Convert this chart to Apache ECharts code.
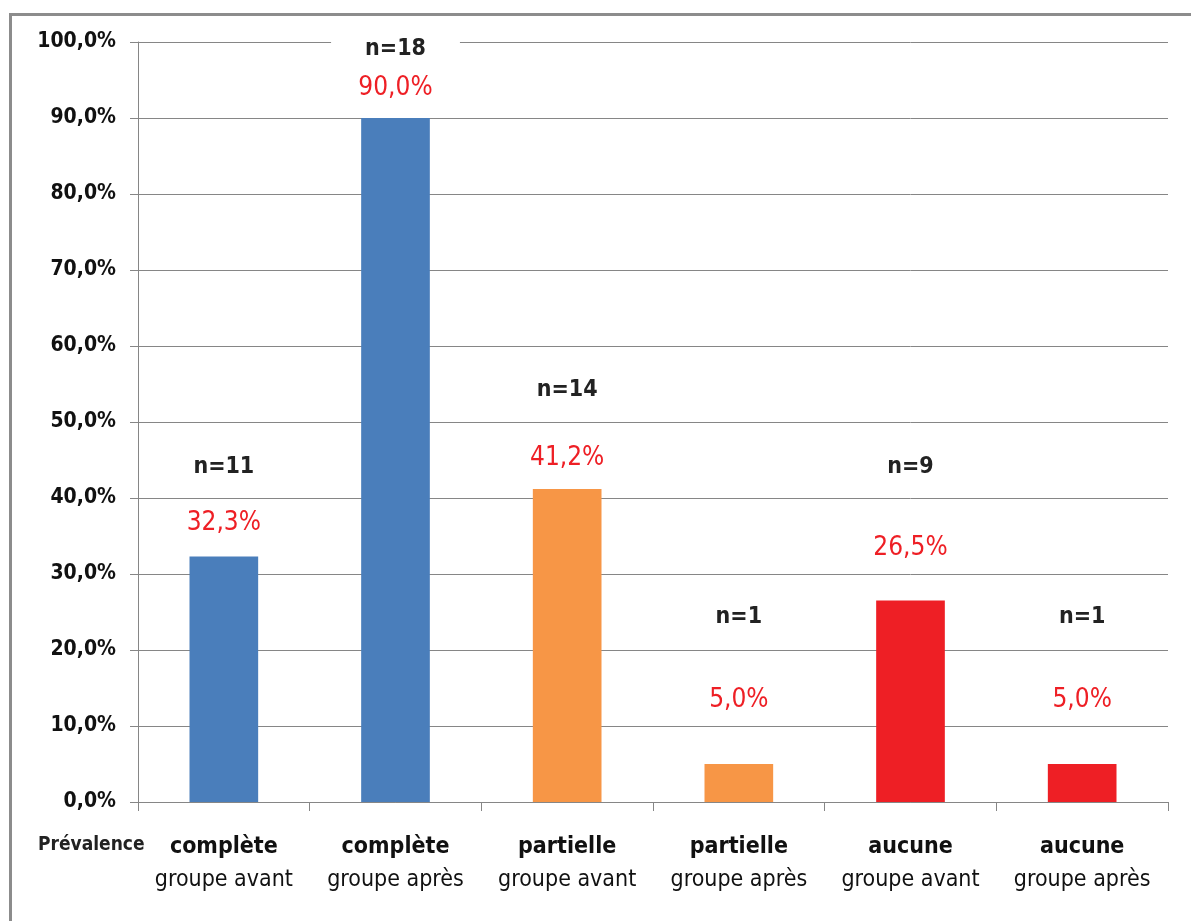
<!DOCTYPE html>
<html>
<head>
<meta charset="utf-8">
<script src="https://cdn.jsdelivr.net/npm/echarts@6/dist/echarts.min.js"></script>
<style>html,body{margin:0;padding:0;background:#fff}#c{width:1191px;height:921px}</style>
</head>
<body>
<div id="c"></div>
<script>
// ---- data ----
const categoriesTop = ['complète', 'complète', 'partielle', 'partielle', 'aucune', 'aucune'];
const categoriesBottom = ['groupe avant', 'groupe après', 'groupe avant', 'groupe après', 'groupe avant', 'groupe après'];
const prevalence = [32.3, 90.0, 41.2, 5.0, 26.5, 5.0];
const counts = [11, 18, 14, 1, 9, 1];
const yTicks = [0, 10, 20, 30, 40, 50, 60, 70, 80, 90, 100];

// ---- style ----
const barColors = ['#4a7ebb', '#4a7ebb', '#f79646', '#f79646', '#ee1f25', '#ee1f25'];
const pctGap = [21, 18, 19, 52, 40, 52];
const nGap = [77, 55, 87, 135, 122, 135];
const FONT = "'Liberation Sans Narrow','DejaVu Sans Condensed','Noto Sans',sans-serif";

const fmt = v => v.toFixed(1).replace('.', ',') + '%';
const cats = categoriesTop.map((t, i) => t + '\n' + categoriesBottom[i]);

const chart = echarts.init(document.getElementById('c'));
chart.setOption({
  animation: false,
  backgroundColor: '#fff',
  grid: { left: 138, right: 23, top: 42, bottom: 119 },
  xAxis: {
    type: 'category',
    data: cats,
    axisLine: { lineStyle: { color: '#868686', width: 1 } },
    axisTick: { show: true, length: 9, lineStyle: { color: '#868686' } },
    axisLabel: {
      margin: 29,
      interval: 0,
      formatter: (v) => { const p = v.split('\n'); return '{a|' + p[0] + '}\n{b|' + p[1] + '}'; },
      rich: {
        a: { fontFamily: FONT, fontSize: 23, fontWeight: 'bold', color: '#111', lineHeight: 33 },
        b: { fontFamily: FONT, fontSize: 23, color: '#111', lineHeight: 33 }
      }
    }
  },
  yAxis: {
    type: 'value',
    min: 0, max: 100, interval: 10,
    axisLine: { show: true, lineStyle: { color: '#868686', width: 1 } },
    axisTick: { show: true, length: 8, lineStyle: { color: '#868686' } },
    splitLine: { lineStyle: { color: '#868686', width: 1 } },
    axisLabel: {
      margin: 22,
      fontFamily: FONT, fontSize: 21, fontWeight: 'bold', color: '#111',
      formatter: v => yTicks.includes(v) ? fmt(v) : ''
    }
  },
  series: [
    {
      type: 'bar',
      barWidth: '40%',
      z: 3,
      data: prevalence.map((v, i) => ({
        value: v,
        itemStyle: { color: barColors[i] },
        label: { distance: pctGap[i] }
      })),
      label: {
        show: true, position: 'top',
        fontFamily: FONT, fontSize: 26, color: '#ee1f25', lineHeight: 24,
        formatter: p => fmt(p.value)
      }
    },
    {
      type: 'bar',
      barWidth: '40%',
      barGap: '-100%',
      z: 4,
      silent: true,
      data: prevalence.map((v, i) => ({
        value: v,
        itemStyle: { color: 'rgba(0,0,0,0)' },
        label: i === 1
          ? { distance: nGap[i], backgroundColor: '#fff', padding: [6, 34, 2, 34] }
          : { distance: nGap[i] }
      })),
      label: {
        show: true, position: 'top',
        fontFamily: FONT, fontSize: 23, fontWeight: 'bold', color: '#222', lineHeight: 24,
        formatter: p => 'n=' + counts[p.dataIndex]
      }
    }
  ],
  graphic: [
    {
      type: 'rect', left: 8, top: 12, silent: true,
      shape: { x: 0, y: 0, width: 1200, height: 930 },
      style: { fill: 'none', stroke: '#8c8c8c', lineWidth: 3 }
    },
    {
      type: 'text', left: 38, top: 836,
      style: { text: 'Prévalence', fontFamily: FONT, fontSize: 19, fontWeight: 'bold', fill: '#222' }
    }
  ]
});
</script>
</body>
</html>
